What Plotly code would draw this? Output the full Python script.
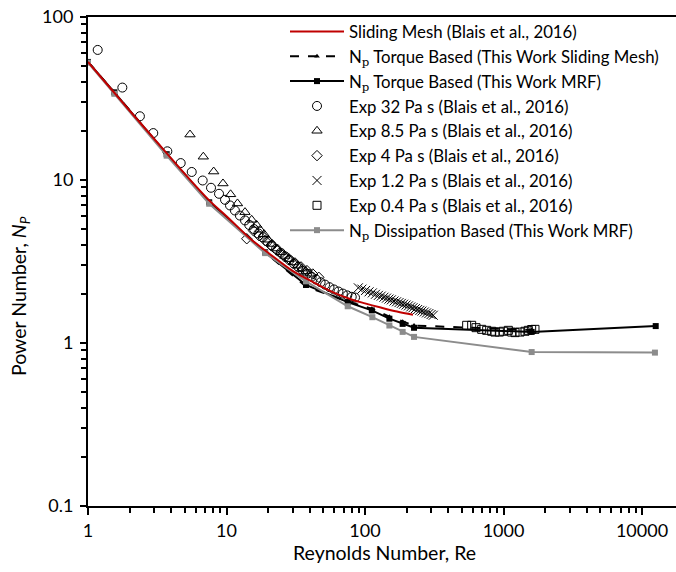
import plotly.graph_objects as go

# ---------------- data ----------------
re_sm_ref = [1, 1.5, 2, 3, 5, 7.5, 10, 15, 20, 30, 40, 60, 80, 100, 130, 170, 222]
np_sm_ref = [53, 35.4, 26.6, 17.9, 10.9, 7.5, 6.0, 4.33, 3.58, 2.77, 2.42, 2.03, 1.85, 1.75, 1.65, 1.56, 1.49]

re_tq_sm = [1, 1.55, 3.7, 7.5, 19, 37.5, 75, 112, 150, 187, 226, 1597]
np_tq_sm = [53, 34.5, 14.4, 7.3, 3.6, 2.22, 1.80, 1.62, 1.45, 1.35, 1.28, 1.20]

re_tq_mrf = [1, 1.55, 3.7, 7.5, 19, 37.5, 75, 112, 150, 187, 226, 1597, 12560]
np_tq_mrf = [53, 34.5, 14.4, 7.3, 3.6, 2.27, 1.78, 1.585, 1.41, 1.31, 1.24, 1.17, 1.27]

re_exp32 = [1.175, 1.77, 2.37, 2.96, 3.74, 4.67, 5.61, 6.73, 7.73, 8.83, 9.76, 10.6, 11.5,
            12.5, 13.6, 14.6, 15.8, 17.0, 18.3, 19.7, 21.2, 22.8, 24.6, 26.5, 28.5, 30.7,
            33.0, 35.6, 38.3, 41.2, 44.4, 47.8, 51.5, 55.4, 59.7, 64.3, 69.2, 74.5, 80.2, 84.7]
np_exp32 = [62.8, 36.9, 24.6, 19.4, 15.0, 12.7, 11.2, 9.93, 8.96, 8.23, 7.56, 6.98, 6.50,
            6.05, 5.65, 5.30, 5.00, 4.70, 4.45, 4.20, 3.98, 3.78, 3.58, 3.40, 3.23, 3.07,
            2.93, 2.78, 2.66, 2.55, 2.45, 2.36, 2.28, 2.20, 2.13, 2.07, 2.01, 1.96, 1.92, 1.90]

re_exp85 = [5.45, 6.80, 8.08, 9.43, 10.7, 12.0, 13.6, 15.2, 16.5, 17.5, 18.7, 20.0, 21.4,
            23.0, 24.6, 26.4, 28.3, 30.4, 32.6, 34.9, 37.4, 40.1]
np_exp85 = [19.0, 13.9, 11.27, 9.52, 8.17, 7.18, 6.35, 5.70, 5.30, 4.95, 4.65, 4.30, 4.05,
            3.80, 3.60, 3.42, 3.27, 3.12, 2.98, 2.86, 2.75, 2.66]

re_exp4 = [14.0, 15.6, 17.2, 19.0, 21.0, 23.2, 25.6, 28.3, 31.2, 34.5, 38.1, 42.0, 46.4]
np_exp4 = [4.36, 4.90, 4.55, 4.25, 3.95, 3.70, 3.48, 3.28, 3.10, 2.93, 2.78, 2.65, 2.53]

re_exp12 = [89.5, 95, 101, 107, 113, 119, 125, 131, 137, 143, 149, 155, 162, 169, 176,
            183, 190, 198, 206, 214, 222, 231, 240, 249, 258, 268, 278, 289, 300, 311]
np_exp12 = [2.18, 2.14, 2.10, 2.06, 2.03, 1.99, 1.96, 1.94, 1.91, 1.885, 1.86, 1.84, 1.81, 1.79, 1.77,
            1.75, 1.73, 1.71, 1.69, 1.665, 1.645, 1.625, 1.605, 1.585, 1.57, 1.55, 1.53, 1.515, 1.495, 1.48]

re_exp04 = [542, 589, 633, 696, 756, 822, 868, 933, 997, 1084, 1146, 1211, 1315, 1430, 1511, 1597, 1688]
np_exp04 = [1.284, 1.284, 1.242, 1.213, 1.196, 1.18, 1.167, 1.167, 1.18, 1.196, 1.167, 1.158, 1.167, 1.18, 1.196, 1.21, 1.213]

re_diss = [1, 1.55, 3.7, 7.5, 19, 37.5, 75, 113, 150, 187, 226, 1597, 12400]
np_diss = [52.5, 33.8, 14.1, 7.15, 3.56, 2.39, 1.68, 1.44, 1.28, 1.17, 1.09, 0.88, 0.873]

x_tickvals = [1, 10, 100, 1000, 10000]
x_ticktext = ["1", "10", "100", "1000", "10000"]
y_tickvals = [0.1, 1, 10, 100]
y_ticktext = ["0.1", "1", "10", "100"]

NP = "N<sub><span style=\"font-family:'DejaVu Serif'\">p</span></sub>"
FONT = "Lato"

fig = go.Figure()
fig.add_trace(go.Scatter(x=re_tq_sm, y=np_tq_sm, mode="lines+markers", legendrank=2,
                         name=NP + " Torque Based (This Work Sliding Mesh)",
                         line=dict(color="black", width=2, dash="dash"),
                         marker=dict(symbol="triangle-up", size=5, color="black")))
fig.add_trace(go.Scatter(x=re_tq_mrf, y=np_tq_mrf, mode="lines+markers", legendrank=3,
                         name=NP + " Torque Based (This Work MRF)",
                         line=dict(color="black", width=2),
                         marker=dict(symbol="square", size=6, color="black")))
fig.add_trace(go.Scatter(x=re_exp32, y=np_exp32, mode="markers", legendrank=4,
                         name="Exp 32 Pa s (Blais et al., 2016)",
                         marker=dict(symbol="circle-open", size=9, color="black", line=dict(width=1))))
fig.add_trace(go.Scatter(x=re_exp85, y=np_exp85, mode="markers", legendrank=5,
                         name="Exp 8.5 Pa s (Blais et al., 2016)",
                         marker=dict(symbol="triangle-up-open", size=9, color="black", line=dict(width=1))))
fig.add_trace(go.Scatter(x=re_exp4, y=np_exp4, mode="markers", legendrank=6,
                         name="Exp 4 Pa s (Blais et al., 2016)",
                         marker=dict(symbol="diamond-open", size=8, color="black", line=dict(width=1))))
fig.add_trace(go.Scatter(x=re_exp12, y=np_exp12, mode="markers", legendrank=7,
                         name="Exp 1.2 Pa s (Blais et al., 2016)",
                         marker=dict(symbol="x-thin-open", size=9, color="black", line=dict(width=1))))
fig.add_trace(go.Scatter(x=re_exp04, y=np_exp04, mode="markers", legendrank=8,
                         name="Exp 0.4 Pa s (Blais et al., 2016)",
                         marker=dict(symbol="square-open", size=8, color="black", line=dict(width=1))))
fig.add_trace(go.Scatter(x=re_diss, y=np_diss, mode="lines+markers", legendrank=9,
                         name=NP + " Dissipation Based (This Work MRF)",
                         line=dict(color="#8C8C8C", width=2),
                         marker=dict(symbol="square", size=6, color="#8C8C8C")))
fig.add_trace(go.Scatter(x=re_sm_ref, y=np_sm_ref, mode="lines", legendrank=1,
                         name="Sliding Mesh (Blais et al., 2016)",
                         line=dict(color="#C00000", width=2, shape="spline")))

W, H = 676, 572
# plot area in page pixels: left 88, right 676, top 17, bottom 506
L, R, T = 88, 0, 17
B = H - 506
PW, PH = W - L - R, H - T - B
x_max = (W - L) / 138.5


def px_x(px):
    return (px - L) / PW


def px_y(py):
    return (H - B - py) / PH


fig.update_layout(
    width=W, height=H,
    margin=dict(l=L, r=R, t=T, b=B),
    paper_bgcolor="white", plot_bgcolor="white",
    font=dict(family=FONT, size=16, color="black"),
    showlegend=True,
    legend=dict(x=px_x(285), y=px_y(14), xanchor="left", yanchor="top",
                bgcolor="rgba(0,0,0,0)", font=dict(family=FONT, size=16.8, color="black"),
                itemwidth=54, tracegroupgap=0, traceorder="normal"),
    xaxis=dict(type="log", range=[0, x_max], tickvals=x_tickvals, ticktext=x_ticktext,
               automargin=False, ticklabeloverflow="allow",
               showgrid=False, zeroline=False, showline=True, linecolor="black", linewidth=2,
               mirror=True, ticks="outside", ticklen=7, tickwidth=1.5, tickcolor="black",
               tickfont=dict(family=FONT, size=18),
               minor=dict(ticks="outside", ticklen=5, tickwidth=1.5, tickcolor="black", dtick="D1", showgrid=False)),
    yaxis=dict(type="log", range=[-1, 2], tickvals=y_tickvals, ticktext=y_ticktext,
               automargin=False, ticklabeloverflow="allow",
               showgrid=False, zeroline=False, showline=True, linecolor="black", linewidth=2,
               ticks="outside", ticklen=6, tickwidth=1.5, tickcolor="black",
               tickfont=dict(family=FONT, size=18), ticklabelstandoff=3,
               minor=dict(ticks="outside", ticklen=5, tickwidth=1.5, tickcolor="black", dtick="D1", showgrid=False)),
    annotations=[
        dict(text="Reynolds Number, Re", x=px_x(385), y=px_y(552), xref="paper", yref="paper",
             xanchor="center", yanchor="middle", showarrow=False, font=dict(family=FONT, size=19.5)),
        dict(text="Power Number, <i>N<sub>P</sub></i>", x=px_x(20), y=px_y(296), xref="paper", yref="paper",
             xanchor="center", yanchor="middle", showarrow=False, textangle=-90,
             font=dict(family=FONT, size=19.5)),
    ],
)

# remove the default 8px page margin so the figure fills the window exactly
fig.write_html("out.html", config={"displayModeBar": False},
               post_script="document.body.style.margin='0px';")
